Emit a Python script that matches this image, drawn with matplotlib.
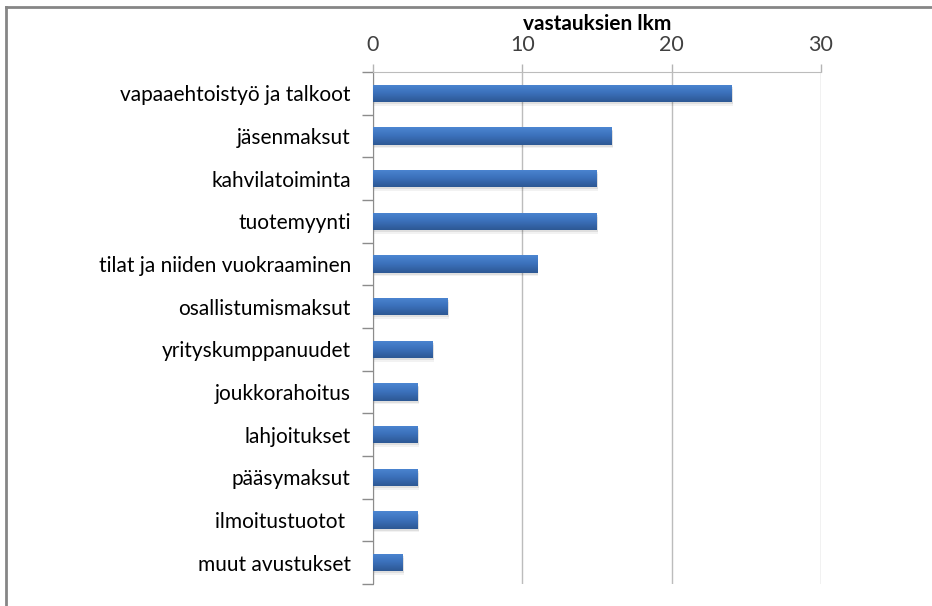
import matplotlib
matplotlib.use("Agg")
import matplotlib.pyplot as plt
import numpy as np
from matplotlib.lines import Line2D
from matplotlib.colors import LinearSegmentedColormap

categories = ["vapaaehtoistyö ja talkoot", "jäsenmaksut", "kahvilatoiminta", "tuotemyynti",
              "tilat ja niiden vuokraaminen", "osallistumismaksut", "yrityskumppanuudet",
              "joukkorahoitus", "lahjoitukset", "pääsymaksut", "ilmoitustuotot ", "muut avustukset"]
values = [24, 16, 15, 15, 11, 5, 4, 3, 3, 3, 3, 2]
xticks = [0, 10, 20, 30]
title = "vastauksien lkm"

plt.rcParams['font.family'] = ['Lato', 'DejaVu Sans']

fig = plt.figure(figsize=(9.32, 6.06), dpi=100)
ax = fig.add_axes([373/932, 1-584/606, (821-373)/932, (584-72)/606])

n = len(categories)
y = np.arange(n)
bar_h = 0.40
bars = ax.barh(y, values, height=bar_h, color='#3B70BA', edgecolor='none', zorder=3)

# soft shadow
for k, a in [(0.05, 0.08), (0.09, 0.05)]:
    ax.barh(y + k, values, height=bar_h, left=0.08, color='#000000', alpha=a,
            edgecolor='none', zorder=2)

# gradient fill
grad = np.linspace(0, 1, 64).reshape(-1, 1)
cmap = LinearSegmentedColormap.from_list('g', ['#4C86D2', '#3B70BA', '#2D5894'])
for b in bars:
    x0, y0 = b.get_x(), b.get_y()
    w, h = b.get_width(), b.get_height()
    im = ax.imshow(grad, cmap=cmap, extent=[x0, x0 + w, y0 + h, y0], aspect='auto',
                   zorder=4, interpolation='bilinear')
    im.set_clip_path(b)

ax.set_xlim(0, 30)
ax.set_ylim(n - 0.5, -0.5)
ax.set_xticks(xticks)
ax.xaxis.tick_top()
ax.xaxis.set_label_position('top')
ax.set_xlabel(title, fontsize=15, fontweight='bold', labelpad=4)
ax.tick_params(axis='x', which='both', length=6, width=1, color='#b4b4b4', direction='out',
               pad=6, labelsize=15.5, labelcolor='#404040')

ax.set_yticks(y)
ax.set_yticklabels(categories)
ax.set_yticks(np.arange(-0.5, n, 1), minor=True)
ax.tick_params(axis='y', which='major', length=0, pad=16, labelsize=15, labelcolor='black')
ax.tick_params(axis='y', which='minor', length=8, width=1, color='#8c8c8c')

ax.grid(axis='x', color='#bcbcbc', linewidth=1, zorder=0)
ax.set_axisbelow(True)
for s in ['right', 'bottom']:
    ax.spines[s].set_visible(False)
ax.spines['left'].set_color('#8c8c8c')
ax.spines['top'].set_color('#bcbcbc')

# figure border (top and left visible)
fig.add_artist(Line2D([6/932, 6/932], [0, 1 - 7/606], transform=fig.transFigure,
                      color='#868686', linewidth=2))
fig.add_artist(Line2D([6/932, 1], [1 - 7/606, 1 - 7/606], transform=fig.transFigure,
                      color='#868686', linewidth=2))

fig.savefig('out.png', dpi=100)
